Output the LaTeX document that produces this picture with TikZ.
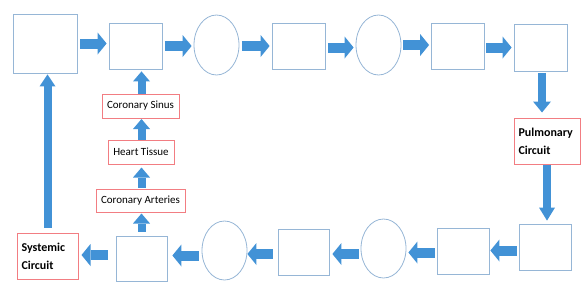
\documentclass[tikz,border=0pt]{standalone}
\usepackage{fontspec}
\setmainfont{Carlito}
\usetikzlibrary{arrows.meta,shapes.geometric,calc}
\definecolor{arrowblue}{RGB}{66,146,214}
\definecolor{boxblue}{RGB}{150,182,214}
\definecolor{boxred}{RGB}{242,125,130}
\begin{document}
\begin{tikzpicture}[x=1pt,y=-1pt,
  blk/.style={draw=boxblue, line width=0.8pt, inner sep=0pt, fill=white},
  sq/.style={blk, rectangle, minimum width=#1},
  oval/.style={blk, ellipse, minimum width=45pt, minimum height=#1},
  lbl/.style={draw=boxred, line width=1pt, inner sep=0pt, fill=white,
    font=\fontsize{11}{13}\selectfont, minimum height=24pt},
  circuit/.style={draw=boxred, line width=1pt, fill=white, inner ysep=0pt, inner xsep=4.5pt,
    font=\fontsize{12}{18}\selectfont\bfseries, align=left, minimum height=46pt},
  hfat/.style={arrowblue, line width=10pt, -{Triangle[length=9pt,width=22pt,line width=0pt]}},
  vfat/.style={arrowblue, line width=8pt, -{Triangle[length=10pt,width=17pt,line width=0pt]}},
]
\useasboundingbox (0,0) rectangle (583,290);
% top row
\node[sq=64pt, minimum height=59pt] (A) at (45,43.5) {};
\node[sq=53pt, minimum height=46pt] (B) at (135.5,46) {};
\node[oval=60pt] (C) at (216.5,45) {};
\node[sq=53pt, minimum height=46pt] (D) at (298.5,46) {};
\node[oval=60pt] (E) at (378.5,45) {};
\node[sq=53pt, minimum height=46pt] (F) at (457.5,46) {};
\node[sq=53pt, minimum height=47pt] (G) at (540.5,47.5) {};
% right side
\node[circuit, text width=57pt] (P) at (547,141) {Pulmonary\\Circuit};
% bottom row
\node[sq=52pt, minimum height=46pt] (H) at (545,247) {};
\node[sq=52pt, minimum height=46pt] (I) at (463,251) {};
\node[oval=59pt] (J) at (383.5,248.5) {};
\node[sq=51pt, minimum height=46pt] (K) at (303.5,252) {};
\node[oval=59pt] (L) at (224.5,250.5) {};
\node[sq=51pt, minimum height=45pt] (M) at (141.5,258.5) {};
\node[circuit, text width=52pt] (S) at (47.5,256) {Systemic\\Circuit};
% coronary column
\node[lbl, minimum width=89pt, minimum height=23pt] (CA) at (140.5,200.5) {Coronary Arteries};
\node[lbl, minimum width=66pt] (HT) at (141,152) {Heart Tissue};
\node[lbl, minimum width=77pt] (CS) at (140.5,106) {Coronary Sinus};

% top row arrows
\draw[hfat, shorten <=3pt, shorten >=2pt] (A.east) -- (A.east -| B.west);
\draw[hfat, shorten <=2.5pt, shorten >=2pt] (B.east) -- (B.east -| C.west);
\draw[hfat, shorten <=2.5pt, shorten >=2pt] ($(C.east)+(0,1)$) -- ($(C.east -| D.west)+(0,1)$);
\draw[hfat, shorten <=2.5pt, shorten >=2pt] ($(D.east)+(0,1.5)$) -- ($(D.east -| E.west)+(0,1.5)$);
\draw[hfat, shorten <=2pt, shorten >=1.5pt] (E.east) -- (E.east -| F.west);
\draw[hfat, shorten <=2pt, shorten >=2pt] ($(F.east)+(0,1.5)$) -- ($(F.east -| G.west)+(0,1.5)$);
% right side arrows
\draw[vfat, -{Triangle[length=11pt,width=18pt,line width=0pt]}, shorten <=1.5pt, shorten >=5pt] ($(G.south)+(1.5,0)$) -- ($(G.south |- P.north)+(1.5,0)$);
\draw[vfat, -{Triangle[length=13pt,width=16pt,line width=0pt]}, shorten <=0pt, shorten >=3pt] (P.south) -- (P.south |- H.north);
% bottom row arrows
\draw[hfat, shorten <=2pt, shorten >=1pt] ($(H.west)+(0,3.5)$) -- ($(H.west -| I.east)+(0,3.5)$);
\draw[hfat, shorten <=2pt, shorten >=2pt] ($(I.west)+(0,1.5)$) -- ($(I.west -| J.east)+(0,1.5)$);
\draw[hfat, shorten <=2pt, shorten >=3pt] ($(J.west)+(0,5.5)$) -- ($(J.west -| K.east)+(0,5.5)$);
\draw[hfat, shorten <=5pt, shorten >=0pt] ($(K.west)+(0,2)$) -- ($(K.west -| L.east)+(0,2)$);
\draw[hfat, shorten <=3pt, shorten >=5pt] ($(L.west)+(0,5)$) -- ($(L.west -| M.east)+(0,5)$);
\draw[hfat, shorten <=8pt, shorten >=3pt] ($(M.west)+(0,-3.5)$) -- ($(M.west -| S.east)+(0,-3.5)$);
% coronary column arrows
\draw[vfat, shorten <=4pt, shorten >=1pt] (M.north) -- (M.north |- CA.south);
\draw[vfat, shorten <=1pt, shorten >=3pt] ($(CA.north)+(1,0)$) -- ($(CA.north |- HT.south)+(1,0)$);
\draw[vfat, shorten <=0pt, shorten >=0.5pt] ($(HT.north)+(0.5,0)$) -- ($(HT.north |- CS.south)+(0.5,0)$);
\draw[vfat, shorten <=0pt, shorten >=2pt] ($(CS.north)+(1,0)$) -- ($(CS.north |- B.south)+(1,0)$);
% long left arrow
\draw[vfat, -{Triangle[length=12pt,width=16pt,line width=0pt]}, shorten <=5pt, shorten >=1pt] (S.north) -- (S.north |- A.south);
\end{tikzpicture}
\end{document}
